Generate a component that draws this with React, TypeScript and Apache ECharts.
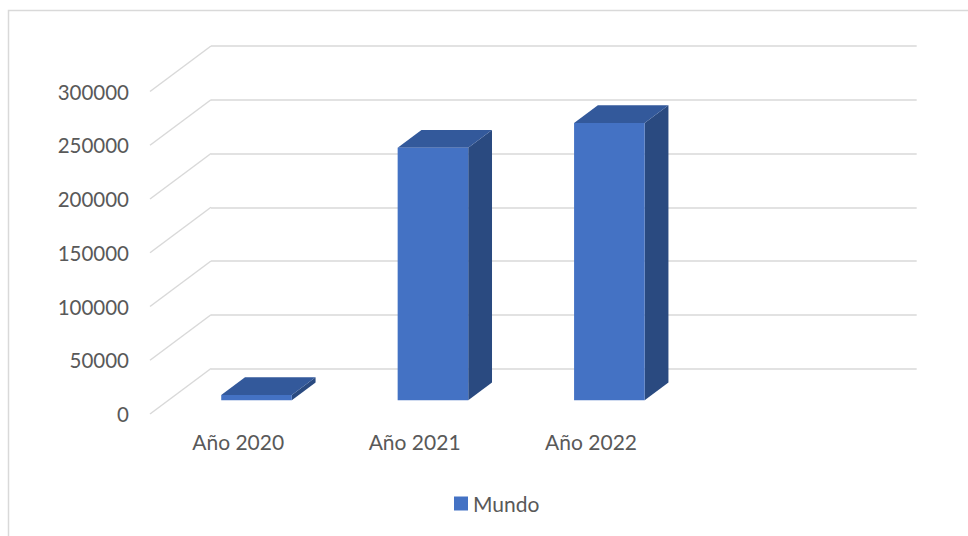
import React, { useEffect, useRef } from "react";
import * as echarts from "echarts";

const categories = ["Año 2020", "Año 2021", "Año 2022", ""];
const mundo: (number | null)[] = [5000, 235000, 258000, null];
const yTicks = [0, 50000, 100000, 150000, 200000, 250000, 300000];
const seriesName = "Mundo";

const DEPTH_X = -61;
const DEPTH_Y = 45.5;
const FRONT = 0.7;
const BACK = 0.31;
const BAR_FRAC = 0.4;

export default function App() {
  const ref = useRef<HTMLDivElement>(null);
  useEffect(() => {
    const chart = echarts.init(ref.current!, null, { renderer: "svg" });
    const font = "Lato, 'Noto Sans', sans-serif";
    const text = "#595959";
    const option: any = {
      animation: false,
      textStyle: { fontFamily: font },
      graphic: [
        {
          type: "rect",
          shape: { x: 8.5, y: 10.5, width: 1000, height: 600 },
          style: { fill: "none", stroke: "#d9d9d9", lineWidth: 1.5 },
          silent: true,
        },
      ],
      grid: [
        { left: 211, right: 51.3, top: 46, bottom: 167.5 },
        { left: 150, right: 112.3, top: 91.5, bottom: 122 },
      ],
      xAxis: [
        { gridIndex: 0, type: "category", data: categories, show: false },
        {
          gridIndex: 1,
          type: "category",
          data: categories,
          axisLine: { show: false },
          axisTick: { show: false },
          splitLine: { show: false },
          axisLabel: { color: text, fontSize: 21, margin: 17, fontFamily: font, interval: 0 },
        },
      ],
      yAxis: [
        {
          gridIndex: 0,
          type: "value",
          min: 0,
          max: 300000,
          interval: 50000,
          axisLabel: { show: false },
          axisLine: { show: false },
          axisTick: { show: false },
          splitLine: { lineStyle: { color: "#d9d9d9", width: 1.5 } },
        },
        {
          gridIndex: 1,
          type: "value",
          min: 0,
          max: 300000,
          interval: 50000,
          axisLine: { show: false },
          axisTick: { show: false },
          splitLine: { show: false },
          axisLabel: {
            color: text,
            fontSize: 20.5,
            margin: 21,
            fontFamily: font,
            formatter: (v: number) => String(v),
          },
        },
      ],
      legend: {
        data: [{ name: seriesName, icon: "rect" }],
        left: 449,
        top: 488,
        itemWidth: 14,
        itemHeight: 14,
        itemGap: 10,
        textStyle: { color: text, fontSize: 21, fontFamily: font },
      },
      series: [
        {
          type: "custom",
          name: "diag",
          xAxisIndex: 0,
          yAxisIndex: 0,
          silent: true,
          data: yTicks.map((v) => [0, v]),
          renderItem: (params: any, api: any) => {
            const y = api.coord([0, api.value(1)])[1];
            const x = params.coordSys.x;
            return {
              type: "line",
              shape: { x1: x, y1: y, x2: x + DEPTH_X, y2: y + DEPTH_Y },
              style: { stroke: "#d9d9d9", lineWidth: 1.5 },
            };
          },
          z: 1,
        },
        {
          type: "custom",
          name: seriesName,
          xAxisIndex: 0,
          yAxisIndex: 0,
          itemStyle: { color: "#4472C4" },
          data: mundo
            .map((v, i) => (v == null ? null : [i, v]))
            .filter((d) => d !== null),
          renderItem: (params: any, api: any) => {
            const cat = api.value(0);
            const v = api.value(1);
            const p0 = api.coord([cat, 0]);
            const p1 = api.coord([cat, v]);
            const bw = api.size([1, 0])[0];
            const L = p0[0] - (BAR_FRAC / 2) * bw + FRONT * DEPTH_X;
            const R = L + BAR_FRAC * bw;
            const yb = p0[1] + FRONT * DEPTH_Y;
            const yt = p1[1] + FRONT * DEPTH_Y;
            const dx = (BACK - FRONT) * DEPTH_X;
            const dy = (BACK - FRONT) * DEPTH_Y;
            return {
              type: "group",
              children: [
                {
                  type: "polygon",
                  shape: { points: [[R, yb], [R + dx, yb + dy], [R + dx, yt + dy], [R, yt]] },
                  style: { fill: "#2A4A80" },
                },
                {
                  type: "polygon",
                  shape: { points: [[L, yt], [R, yt], [R + dx, yt + dy], [L + dx, yt + dy]] },
                  style: { fill: "#33599B" },
                },
                {
                  type: "polygon",
                  shape: { points: [[L, yb], [R, yb], [R, yt], [L, yt]] },
                  style: { fill: "#4472C4" },
                },
              ],
            };
          },
          z: 2,
        },
      ],
    };
    chart.setOption(option);
    return () => chart.dispose();
  }, []);
  return (
    <div
      ref={ref}
      style={{ position: "absolute", left: 0, top: 0, width: 968, height: 536, background: "#fff" }}
    />
  );
}
